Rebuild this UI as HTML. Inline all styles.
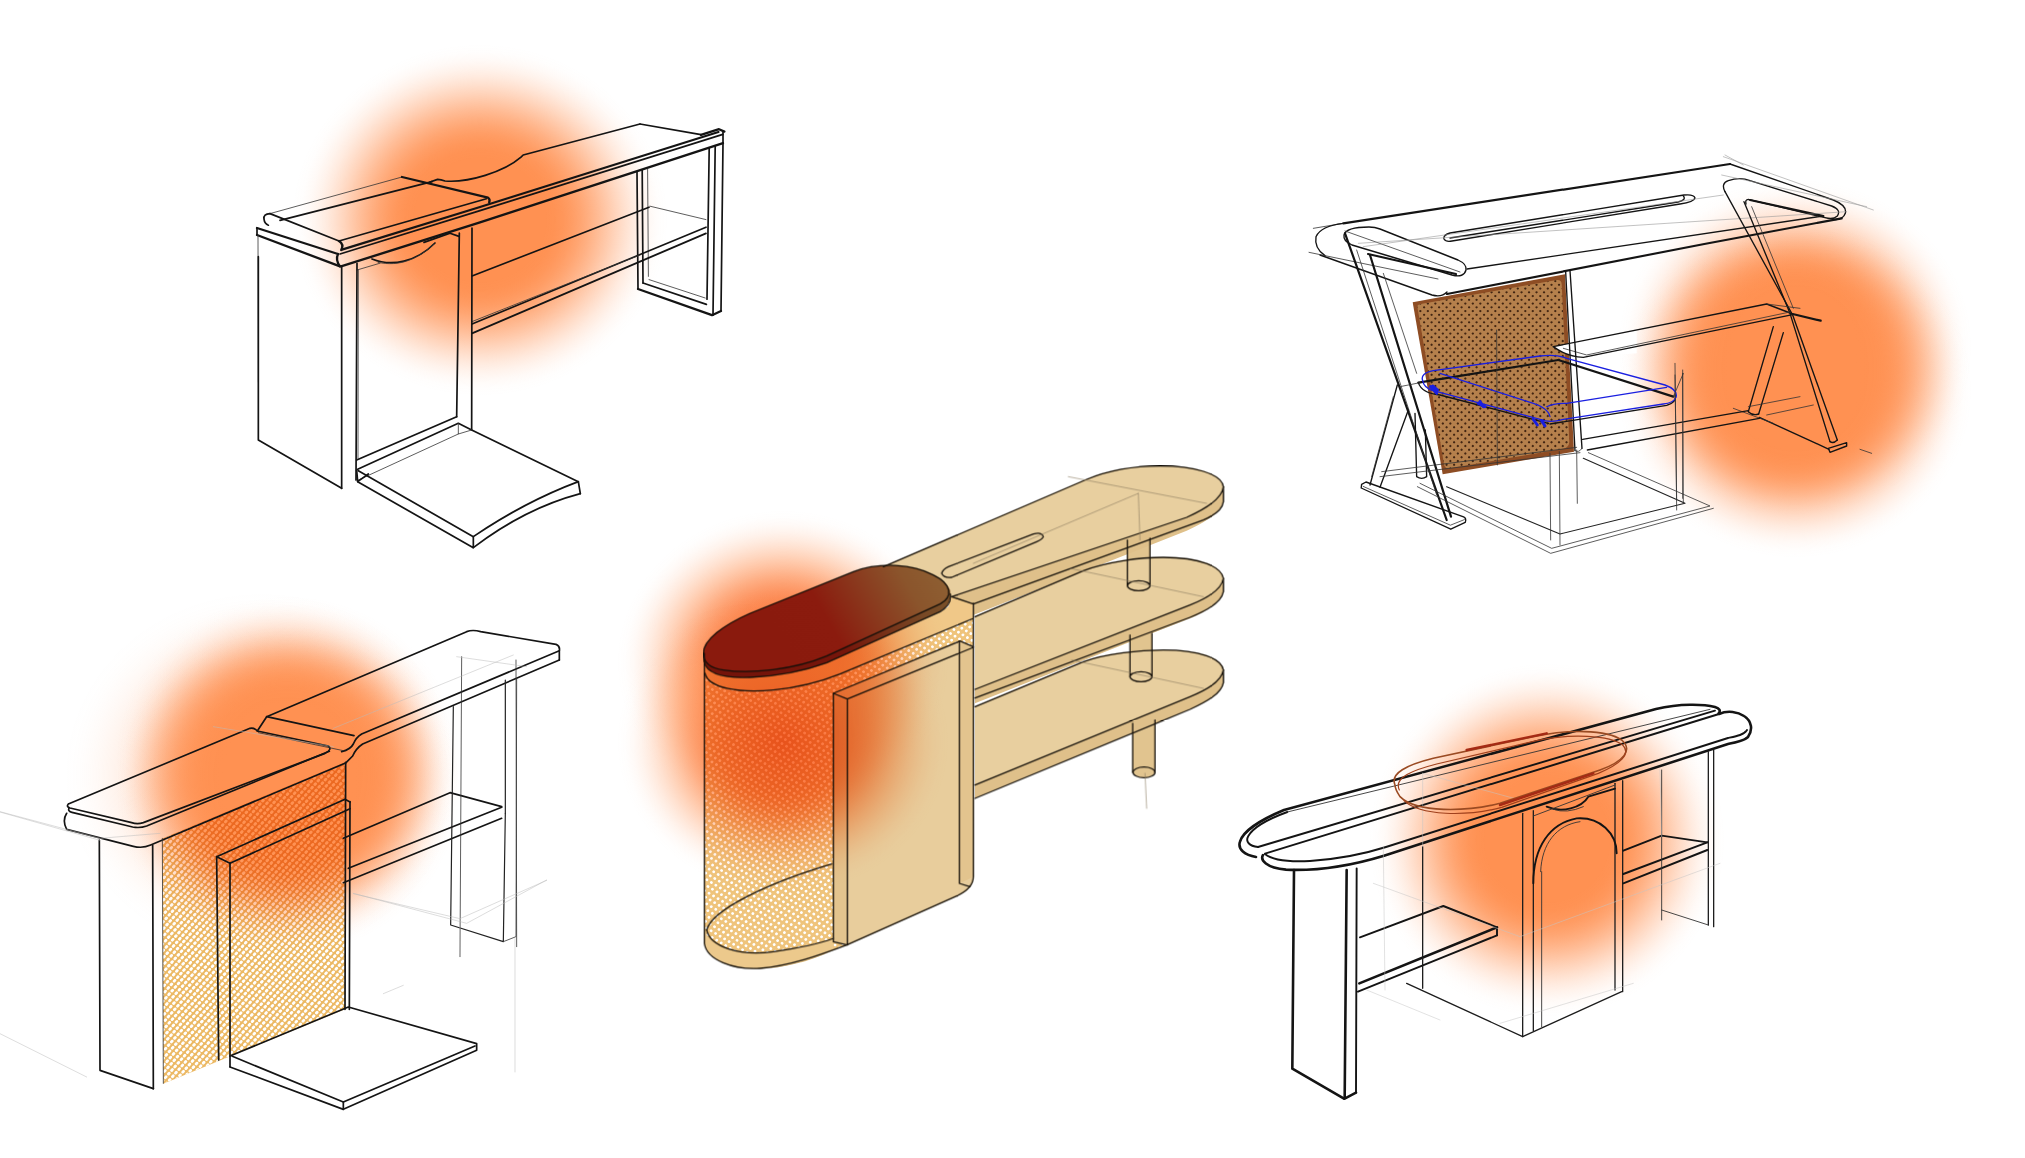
<!DOCTYPE html>
<html><head><meta charset="utf-8"><title>Desk concept sketches</title>
<style>
html,body{margin:0;padding:0;background:#fff;overflow:hidden}
svg{display:block}
.ln path,.ln line,.ln ellipse,.ln polyline{vector-effect:non-scaling-stroke;fill:none;stroke:#141414;stroke-width:1.7;stroke-linecap:round;stroke-linejoin:round}
.ln .t{stroke-width:.8;stroke:#333}
.ln .f{stroke-width:.5;stroke:#bbb}
.ln .b{stroke-width:2.3}
.ln .m{stroke-width:1.2;stroke:#222}
.ln.s4 path,.ln.s4 ellipse{stroke-width:1.3;stroke:#14100a}
.ln.s4 path.f{stroke-width:.6;stroke:#8a7a60}
.ln.s5 path{stroke-width:1.9}
.ln.s5 path.b{stroke-width:2.6}
.ln.s5 path.t{stroke-width:.9;stroke:#333}
.ln.s5 path.m{stroke-width:1.3;stroke:#1c1c1c}
.ln.s5 path.f{stroke-width:.5;stroke:#c4c4c4}
.ln.s2 path{stroke-width:1.35}
.ln.s2 path.b{stroke-width:2.2}
.ln.s2 path.t{stroke-width:.8;stroke:#333}
.ln.s2 path.f{stroke-width:.6;stroke:#999}
</style></head><body>
<svg width="2025" height="1158" viewBox="0 0 2025 1158">
<defs>
<radialGradient id="og" cx=".5" cy=".5" r=".5">
<stop offset="0.000" stop-color="rgb(255,145,82)" stop-opacity="1.000"/>
<stop offset="0.350" stop-color="rgb(255,145,82)" stop-opacity="1.000"/>
<stop offset="0.396" stop-color="rgb(255,145,82)" stop-opacity="0.987"/>
<stop offset="0.443" stop-color="rgb(255,145,82)" stop-opacity="0.950"/>
<stop offset="0.489" stop-color="rgb(255,145,82)" stop-opacity="0.891"/>
<stop offset="0.536" stop-color="rgb(255,145,82)" stop-opacity="0.812"/>
<stop offset="0.582" stop-color="rgb(255,145,82)" stop-opacity="0.717"/>
<stop offset="0.629" stop-color="rgb(255,145,82)" stop-opacity="0.611"/>
<stop offset="0.675" stop-color="rgb(255,145,82)" stop-opacity="0.500"/>
<stop offset="0.721" stop-color="rgb(255,145,82)" stop-opacity="0.389"/>
<stop offset="0.768" stop-color="rgb(255,145,82)" stop-opacity="0.283"/>
<stop offset="0.814" stop-color="rgb(255,145,82)" stop-opacity="0.188"/>
<stop offset="0.861" stop-color="rgb(255,145,82)" stop-opacity="0.109"/>
<stop offset="0.907" stop-color="rgb(255,145,82)" stop-opacity="0.050"/>
<stop offset="0.954" stop-color="rgb(255,145,82)" stop-opacity="0.013"/>
<stop offset="1.000" stop-color="rgb(255,145,82)" stop-opacity="0.000"/>
</radialGradient>
<clipPath id="cp3"><path d="M162.3 838.5 L345 762.3 L345 1009.3 L163.3 1083.7 Z"/></clipPath>
<clipPath id="cp4" transform="translate(640,440) scale(.33333)"><path d="M193 640 L193 1510 C200 1560 280 1590 360 1585 C450 1578 540 1545 620 1515 L950 1368 C985 1352 1000 1335 1000 1310 L1000 480 L560 640 Z"/></clipPath>
<radialGradient id="og4" cx=".5" cy=".5" r=".5">
<stop offset="0.000" stop-color="rgb(248,108,56)" stop-opacity="1.000"/>
<stop offset="0.320" stop-color="rgb(251,127,72)" stop-opacity="1.000"/>
<stop offset="0.369" stop-color="rgb(252,130,74)" stop-opacity="0.987"/>
<stop offset="0.417" stop-color="rgb(252,133,76)" stop-opacity="0.950"/>
<stop offset="0.466" stop-color="rgb(253,136,79)" stop-opacity="0.891"/>
<stop offset="0.514" stop-color="rgb(253,139,81)" stop-opacity="0.812"/>
<stop offset="0.563" stop-color="rgb(254,142,83)" stop-opacity="0.717"/>
<stop offset="0.611" stop-color="rgb(254,145,86)" stop-opacity="0.611"/>
<stop offset="0.660" stop-color="rgb(255,148,88)" stop-opacity="0.500"/>
<stop offset="0.709" stop-color="rgb(255,150,90)" stop-opacity="0.389"/>
<stop offset="0.757" stop-color="rgb(255,150,90)" stop-opacity="0.283"/>
<stop offset="0.806" stop-color="rgb(255,150,90)" stop-opacity="0.188"/>
<stop offset="0.854" stop-color="rgb(255,150,90)" stop-opacity="0.109"/>
<stop offset="0.903" stop-color="rgb(255,150,90)" stop-opacity="0.050"/>
<stop offset="0.951" stop-color="rgb(255,150,90)" stop-opacity="0.013"/>
<stop offset="1.000" stop-color="rgb(255,150,90)" stop-opacity="0.000"/>
</radialGradient>
<clipPath id="cp2" transform="translate(1300,140) scale(.33333)"><path d="M352 500 Q352 494 362 492 L770 420 Q784 418 785 432 L808 905 Q808 922 790 926 L450 985 Q434 988 432 972 Z"/></clipPath>
<linearGradient id="padg" gradientUnits="userSpaceOnUse" x1="330" y1="720" x2="930" y2="380">
<stop offset="0" stop-color="#8a1a0d"/><stop offset=".42" stop-color="#8b1b0e"/><stop offset=".62" stop-color="#8a3a1e"/><stop offset=".8" stop-color="#8b552c"/><stop offset="1" stop-color="#8f6234"/></linearGradient>
<linearGradient id="padg2" gradientUnits="userSpaceOnUse" x1="330" y1="720" x2="930" y2="380">
<stop offset="0" stop-color="#74140a"/><stop offset=".42" stop-color="#76160b"/><stop offset=".62" stop-color="#773219"/><stop offset=".8" stop-color="#784a26"/><stop offset="1" stop-color="#7a532b"/></linearGradient>
</defs>
<rect width="2025" height="1158" fill="#fff"/>
<!-- PANELS -->
<g id="panels">
<path d="M162.3 838.5 L345 762.3 L345 1009.3 L163.3 1083.7 Z" fill="#ecb964"/>
<!--H3--><g clip-path="url(#cp3)"><g transform="rotate(41.2)" stroke="#fff" stroke-width="2.85" stroke-linecap="round" stroke-dasharray="1.1 3.68" fill="none">
<path d="M616.20 338.09V713"/>
<path d="M620.94 337.46V713"/>
<path d="M625.68 336.82V713"/>
<path d="M630.42 336.19V713"/>
<path d="M635.16 335.55V713"/>
<path d="M639.90 334.92V713"/>
<path d="M644.64 339.06V713"/>
<path d="M649.38 338.43V713"/>
<path d="M654.12 337.79V713"/>
<path d="M658.86 337.16V713"/>
<path d="M663.60 336.52V713"/>
<path d="M668.34 335.89V713"/>
<path d="M673.08 335.25V713"/>
<path d="M677.82 334.62V713"/>
<path d="M682.56 338.76V713"/>
<path d="M687.30 338.12V713"/>
<path d="M692.04 337.49V713"/>
<path d="M696.78 336.86V713"/>
<path d="M701.52 336.22V713"/>
<path d="M706.26 335.59V713"/>
<path d="M711.00 334.95V713"/>
<path d="M715.74 339.10V713"/>
<path d="M720.48 338.46V713"/>
<path d="M725.22 337.83V713"/>
<path d="M729.96 337.19V713"/>
<path d="M734.70 336.56V713"/>
<path d="M739.44 335.92V713"/>
<path d="M744.18 335.29V713"/>
<path d="M748.92 334.65V713"/>
<path d="M753.66 338.80V713"/>
<path d="M758.40 338.16V713"/>
<path d="M763.14 337.53V713"/>
<path d="M767.88 336.89V713"/>
<path d="M772.62 336.26V713"/>
<path d="M777.36 335.62V713"/>
<path d="M782.10 334.99V713"/>
<path d="M786.84 339.13V713"/>
<path d="M791.58 338.50V713"/>
<path d="M796.32 337.86V713"/>
<path d="M801.06 337.23V713"/>
<path d="M805.80 336.59V713"/>
<path d="M810.54 335.96V713"/>
<path d="M815.28 335.32V713"/>
<path d="M820.02 334.69V713"/>
<path d="M824.76 338.83V713"/>
<path d="M829.50 338.20V713"/>
<path d="M834.24 337.56V713"/>
<path d="M838.98 336.93V713"/>
<path d="M843.72 336.29V713"/>
<path d="M848.46 335.66V713"/>
<path d="M853.20 335.02V713"/>
<path d="M857.94 339.17V713"/>
<path d="M862.68 338.53V713"/>
<path d="M867.42 337.90V713"/>
<path d="M872.16 337.26V713"/>
<path d="M876.90 336.62V713"/>
<path d="M881.64 335.99V713"/>
<path d="M886.38 335.36V713"/>
<path d="M891.12 334.72V713"/>
<path d="M895.86 338.87V713"/>
<path d="M900.60 338.23V713"/>
<path d="M905.34 337.60V713"/>
<path d="M910.08 336.96V713"/>
<path d="M914.82 336.33V713"/>
<path d="M919.56 335.69V713"/>
<path d="M924.30 335.06V713"/>
<path d="M929.04 339.20V713"/>
<path d="M933.78 338.57V713"/>
<path d="M938.52 337.93V713"/>
<path d="M943.26 337.30V713"/>
<path d="M948.00 336.66V713"/>
<path d="M952.74 336.03V713"/>
<path d="M957.48 335.39V713"/>
<path d="M962.22 334.76V713"/>
<path d="M966.96 338.90V713"/>
<path d="M971.70 338.27V713"/>
<path d="M976.44 337.63V713"/>
</g></g><!--/H3-->
<g transform="translate(640,440) scale(.33333)">
<path d="M193 640 L193 1510 C200 1560 280 1590 360 1585 C450 1578 540 1545 620 1515 L950 1368 C985 1352 1000 1335 1000 1310 L1000 480 L560 640 Z" fill="#efc47c"/>
<path d="M193 660 L193 735 C300 790 480 760 600 705 L1000 535 L1000 480 L560 640 Z" fill="#f0c888"/>
</g>
<!--H4--><g clip-path="url(#cp4)"><g transform="rotate(40.4)" stroke="#fff" stroke-width="2.8" stroke-linecap="round" stroke-dasharray="0.01 5.24" fill="none">
<path d="M916.86 -181.95V289"/>
<path d="M922.04 -182.80V289"/>
<path d="M927.22 -183.65V289"/>
<path d="M932.40 -179.25V289"/>
<path d="M937.58 -180.10V289"/>
<path d="M942.76 -180.95V289"/>
<path d="M947.94 -181.80V289"/>
<path d="M953.12 -182.65V289"/>
<path d="M958.30 -183.50V289"/>
<path d="M963.48 -179.10V289"/>
<path d="M968.66 -179.95V289"/>
<path d="M973.84 -180.80V289"/>
<path d="M979.02 -181.65V289"/>
<path d="M984.20 -182.50V289"/>
<path d="M989.38 -183.35V289"/>
<path d="M994.56 -178.95V289"/>
<path d="M999.74 -179.80V289"/>
<path d="M1004.92 -180.65V289"/>
<path d="M1010.10 -181.50V289"/>
<path d="M1015.28 -182.35V289"/>
<path d="M1020.46 -183.20V289"/>
<path d="M1025.64 -178.80V289"/>
<path d="M1030.82 -179.65V289"/>
<path d="M1036.00 -180.50V289"/>
<path d="M1041.18 -181.35V289"/>
<path d="M1046.36 -182.20V289"/>
<path d="M1051.54 -183.05V289"/>
<path d="M1056.72 -178.65V289"/>
<path d="M1061.90 -179.50V289"/>
<path d="M1067.08 -180.35V289"/>
<path d="M1072.26 -181.20V289"/>
<path d="M1077.44 -182.05V289"/>
<path d="M1082.62 -182.90V289"/>
<path d="M1087.80 -183.75V289"/>
<path d="M1092.98 -179.35V289"/>
<path d="M1098.16 -180.20V289"/>
<path d="M1103.34 -181.05V289"/>
<path d="M1108.52 -181.90V289"/>
<path d="M1113.70 -182.75V289"/>
<path d="M1118.88 -183.60V289"/>
<path d="M1124.06 -179.20V289"/>
<path d="M1129.24 -180.05V289"/>
<path d="M1134.42 -180.90V289"/>
<path d="M1139.60 -181.75V289"/>
<path d="M1144.78 -182.60V289"/>
<path d="M1149.96 -183.45V289"/>
<path d="M1155.14 -179.05V289"/>
<path d="M1160.32 -179.90V289"/>
<path d="M1165.50 -180.75V289"/>
<path d="M1170.68 -181.60V289"/>
<path d="M1175.86 -182.45V289"/>
<path d="M1181.04 -183.30V289"/>
<path d="M1186.22 -178.90V289"/>
<path d="M1191.40 -179.75V289"/>
<path d="M1196.58 -180.60V289"/>
<path d="M1201.76 -181.45V289"/>
<path d="M1206.94 -182.30V289"/>
<path d="M1212.12 -183.15V289"/>
<path d="M1217.30 -178.75V289"/>
<path d="M1222.48 -179.60V289"/>
<path d="M1227.66 -180.45V289"/>
<path d="M1232.84 -181.30V289"/>
<path d="M1238.02 -182.15V289"/>
<path d="M1243.20 -183.00V289"/>
<path d="M1248.38 -178.60V289"/>
<path d="M1253.56 -179.45V289"/>
<path d="M1258.74 -180.30V289"/>
<path d="M1263.92 -181.15V289"/>
<path d="M1269.10 -182.00V289"/>
<path d="M1274.28 -182.85V289"/>
<path d="M1279.46 -183.70V289"/>
<path d="M1284.64 -179.30V289"/>
<path d="M1289.82 -180.15V289"/>
<path d="M1295.00 -181.00V289"/>
<path d="M1300.18 -181.85V289"/>
<path d="M1305.36 -182.70V289"/>
<path d="M1310.54 -183.55V289"/>
<path d="M1315.72 -179.15V289"/>
<path d="M1320.90 -180.00V289"/>
<path d="M1326.08 -180.85V289"/>
<path d="M1331.26 -181.70V289"/>
<path d="M1336.44 -182.55V289"/>
<path d="M1341.62 -183.40V289"/>
<path d="M1346.80 -179.00V289"/>
<path d="M1351.98 -179.85V289"/>
<path d="M1357.16 -180.70V289"/>
<path d="M1362.34 -181.55V289"/>
<path d="M1367.52 -182.40V289"/>
<path d="M1372.70 -183.25V289"/>
<path d="M1377.88 -178.85V289"/>
</g></g><!--/H4-->
<g transform="translate(640,440) scale(.33333)"><path d="M193 665 L195 700 C205 745 300 760 400 750 C480 742 550 722 600 702 L1000 535 L1000 490 L935 466 L925 500 L900 515 L560 668 C500 690 420 708 330 712 C250 715 200 700 193 665 Z" fill="#f0c888"/><path d="M193 1470 C210 1520 300 1550 400 1535 C470 1525 540 1510 580 1495 L580 1530 C500 1570 420 1585 360 1585 C280 1590 200 1560 193 1510 Z" fill="#ecc98c"/></g>
<g transform="translate(640,440) scale(.33333)">
<path d="M580 760 L960 603 L1000 620 L1000 1310 C1000 1335 985 1352 950 1368 L622 1515 L580 1505 Z" fill="#e8cd9c"/>
<path d="M580 760 L622 777 L622 1515 L580 1505 Z" fill="#e3c48e"/>
<path d="M960 603 L1000 620 L1000 1310 L960 1330 Z" fill="#e3c48e"/>
<g fill="#e1c48f"><rect x="1462" y="290" width="68" height="147"/><ellipse cx="1496" cy="437" rx="34" ry="15"/>
<rect x="1470" y="570" width="66" height="140"/><ellipse cx="1503" cy="710" rx="33" ry="15"/>
<rect x="1478" y="840" width="67" height="157"/><ellipse cx="1512" cy="997" rx="33" ry="16"/></g>
<path d="M1005 800 L1330 665 C1400 640 1500 630 1570 630 C1680 630 1745 655 1750 690 L1750 728 C1745 760 1700 785 1650 808 L1005 1075 Z" fill="#dfc08a"/><path d="M1005 800 L1330 665 C1400 640 1500 630 1570 630 C1680 630 1745 655 1750 690 C1745 725 1700 750 1650 770 L1005 1035 Z" fill="#e8cf9f"/>
<path d="M1005 530 L1330 392 C1400 365 1500 352 1570 352 C1680 352 1745 380 1750 415 L1750 455 C1745 485 1700 512 1650 535 L1005 790 Z" fill="#dfc08a"/><path d="M1005 530 L1330 392 C1400 365 1500 352 1570 352 C1680 352 1745 380 1750 415 C1745 450 1700 475 1650 495 L1005 748 Z" fill="#e8cf9f"/>
<path d="M730 380 L1340 118 C1420 85 1500 78 1560 78 C1660 78 1745 100 1750 140 L1750 185 C1745 215 1700 245 1640 272 L1000 525 L1000 490 L935 470 Z" fill="#dfc08a"/><path d="M730 380 L1340 118 C1420 85 1500 78 1560 78 C1660 78 1745 100 1750 140 C1748 175 1700 205 1640 232 L935 470 Z" fill="#e8cf9f"/>

</g>
</g>
<!-- BLOBS -->
<g id="blobs" style="mix-blend-mode:multiply">
<ellipse cx="480" cy="220" rx="188" ry="176" fill="url(#og)"/>
<ellipse cx="1795" cy="347" rx="177" ry="168" fill="url(#og)"/><ellipse cx="1795" cy="390" rx="177" ry="168" fill="url(#og)"/>
<ellipse cx="262" cy="775" rx="200" ry="185" fill="url(#og)" opacity=".3"/><ellipse cx="288" cy="760" rx="172" ry="164" fill="url(#og)"/><ellipse cx="288" cy="790" rx="172" ry="164" fill="url(#og)"/>
<ellipse cx="1547" cy="840" rx="178" ry="177" fill="url(#og)"/>
<ellipse cx="783" cy="662" rx="166" ry="152" fill="url(#og4)"/><ellipse cx="783" cy="742" rx="166" ry="152" fill="url(#og4)"/>
</g>
<g transform="translate(640,440) scale(.33333)">
<path d="M190 640 L192 665 C200 700 250 715 330 712 C420 708 500 690 560 668 L900 515 C925 500 934 485 931 462 C935 432 880 405 880 405 L330 520 Z" fill="url(#padg2)"/>
<path d="M190 640 C190 600 250 555 330 520 L640 395 C720 365 820 372 880 405 C935 432 940 470 900 492 L560 648 C460 690 330 702 250 690 C210 684 190 665 190 640 Z" fill="url(#padg)"/>
</g>
<!-- SKETCH1 -->
<g class="ln" transform="translate(240,150) scale(.2)">
<path class="t" d="M150 318 L810 135"/>
<path class="b" d="M810 135 L1240 238 Q1252 246 1246 262"/>
<path d="M200 352 L960 158"/>
<path d="M150 318 L495 455"/>
<path d="M150 318 Q116 320 120 346 Q123 370 142 376"/>
<path d="M495 455 L1232 244"/>
<path class="b" d="M495 455 Q522 472 506 500"/>
<path class="b" d="M85 390 L490 520"/>
<path class="b" d="M85 425 L500 582"/>
<path d="M85 390 L85 425"/>
<path class="b" d="M490 520 Q476 550 500 582"/>
<path class="t" d="M90 425 L92 1160"/>
<path d="M660 545 C760 585 880 560 975 465"/>
<path class="t" d="M690 562 C800 585 890 545 970 470"/>
<path d="M920 462 L1050 416 L1095 432"/>
<path class="t" d="M585 600 L700 566"/>
</g>
<g class="ln" transform="translate(480,100) scale(.2)">
<path d="M-250 410 L-212 397 Q-195 398 -175 405 C-60 415 120 360 205 286 L216 275 L800 120"/>
<path d="M800 120 L1105 173"/>
<path class="b" d="M1105 174 L1195 146 L1222 158"/>
<path d="M1215 162 L1215 215"/>
<path class="b" d="M-690 748 L0 535 L1192 160"/>
<path d="M-700 770 L0 553 L1214 172"/>
<path class="b" d="M-695 832 L0 612 L1215 216"/>
<path d="M1215 215 L1205 1055"/>
<path d="M1176 230 L1165 1076"/>
<path d="M1146 240 L1135 996"/>
<path d="M785 360 L790 945"/>
<path d="M811 352 L815 915"/>
<path class="t" d="M838 345 L842 882"/>
<path class="b" d="M790 945 L1160 1076 L1205 1055"/>
<path d="M815 915 L1132 1022"/>
<path class="t" d="M845 898 L1126 990"/>
<path class="t" d="M850 531 L1130 598"/>
<path d="M-40 880 L845 536"/>
<path d="M-40 1120 L1130 636"/>
<path d="M-40 1167 L1130 667"/>
<path class="t" d="M-40 1108 L800 775"/>
</g>
<g class="ln" transform="translate(225,250) scale(.33333)">
<path d="M100 20 L100 570 L350 715"/>
<path d="M350 50 L350 715"/>
<path d="M396 40 L393 690"/>
<path class="t" d="M400 60 L399 625"/>
<path d="M703 -51 L695 500"/>
<path d="M741 -66 L740 540"/>
<path d="M395 630 L695 500"/>
<path d="M398 658 L700 520 L740 540 L1060 695 L1066 731"/>
<path class="t" d="M700 520 L700 552 L400 690"/>
<path class="t" d="M700 552 L740 540"/>
<path d="M395 660 L398 695 L430 672"/>
<path d="M400 662 L745 860 Q900 755 1060 695"/>
<path d="M398 695 L745 893 L745 860"/>
<path d="M745 893 Q900 775 1066 731"/>
</g>
<!-- SKETCH2 -->
<g transform="translate(1300,140) scale(.33333)">
<path d="M338 487 L795 403 L822 935 L428 1003 Z" fill="#8e4d24"/>
<path d="M352 500 Q352 494 362 492 L770 420 Q784 418 785 432 L808 905 Q808 922 790 926 L450 985 Q434 988 432 972 Z" fill="#b5804c"/>
</g>
<!--H2--><g clip-path="url(#cp2)"><g transform="rotate(45)" stroke="#2e1508" stroke-width="2.2" stroke-linecap="round" stroke-dasharray="0.01 5.29" fill="none" stroke-opacity=".85">
<path d="M1187.20 -932.80V-659"/>
<path d="M1192.50 -932.80V-659"/>
<path d="M1197.80 -932.80V-659"/>
<path d="M1203.10 -932.80V-659"/>
<path d="M1208.40 -932.80V-659"/>
<path d="M1213.70 -932.80V-659"/>
<path d="M1219.00 -932.80V-659"/>
<path d="M1224.30 -932.80V-659"/>
<path d="M1229.60 -932.80V-659"/>
<path d="M1234.90 -932.80V-659"/>
<path d="M1240.20 -932.80V-659"/>
<path d="M1245.50 -932.80V-659"/>
<path d="M1250.80 -932.80V-659"/>
<path d="M1256.10 -932.80V-659"/>
<path d="M1261.40 -932.80V-659"/>
<path d="M1266.70 -932.80V-659"/>
<path d="M1272.00 -932.80V-659"/>
<path d="M1277.30 -932.80V-659"/>
<path d="M1282.60 -932.80V-659"/>
<path d="M1287.90 -932.80V-659"/>
<path d="M1293.20 -932.80V-659"/>
<path d="M1298.50 -932.80V-659"/>
<path d="M1303.80 -932.80V-659"/>
<path d="M1309.10 -932.80V-659"/>
<path d="M1314.40 -932.80V-659"/>
<path d="M1319.70 -932.80V-659"/>
<path d="M1325.00 -932.80V-659"/>
<path d="M1330.30 -932.80V-659"/>
<path d="M1335.60 -932.80V-659"/>
<path d="M1340.90 -932.80V-659"/>
<path d="M1346.20 -932.80V-659"/>
<path d="M1351.50 -932.80V-659"/>
<path d="M1356.80 -932.80V-659"/>
<path d="M1362.10 -932.80V-659"/>
<path d="M1367.40 -932.80V-659"/>
<path d="M1372.70 -932.80V-659"/>
<path d="M1378.00 -932.80V-659"/>
<path d="M1383.30 -932.80V-659"/>
<path d="M1388.60 -932.80V-659"/>
<path d="M1393.90 -932.80V-659"/>
<path d="M1399.20 -932.80V-659"/>
<path d="M1404.50 -932.80V-659"/>
<path d="M1409.80 -932.80V-659"/>
<path d="M1415.10 -932.80V-659"/>
<path d="M1420.40 -932.80V-659"/>
<path d="M1425.70 -932.80V-659"/>
<path d="M1431.00 -932.80V-659"/>
<path d="M1436.30 -932.80V-659"/>
<path d="M1441.60 -932.80V-659"/>
<path d="M1446.90 -932.80V-659"/>
<path d="M1452.20 -932.80V-659"/>
</g></g><!--/H2-->
<g transform="translate(1300,140) scale(.33333)"><path d="M760 620 L1010 570 L1010 640 L850 652 Q800 650 760 620 Z" fill="#fff"/></g>
<g class="ln s2" transform="translate(1300,140) scale(.33333)">
<path class="b" d="M130 250 L1290 72"/>
<path class="t" d="M40 265 L130 250"/>
<path d="M130 250 Q62 258 48 290 Q42 325 75 347"/>
<path d="M60 345 L396 465 Q425 473 441 456"/>
<path class="t" d="M27 337 L414 417"/>
<path class="b" d="M441 462 L1213 312 L1625 235"/>
<path d="M501 387 L1570 228"/>
<path d="M1290 72 L1600 180 Q1642 197 1636 220 Q1628 242 1598 238"/>
<path d="M1285 122 Q1262 130 1275 155 M1285 122 Q1320 110 1350 122 L1595 198 Q1625 210 1612 228 Q1600 240 1575 233 L1345 178 Q1335 178 1338 192"/>
<path class="b" d="M1350 180 L1570 228"/>
<path d="M450 279 Q429 285 432 297 Q438 307 456 303 L1140 192 Q1182 186 1185 174 Q1182 162 1152 165 Z"/>
<path d="M450 294 L1134 186 Q1160 180 1150 168"/>
<path d="M207 261 Q138 261 132 285 Q129 303 156 315 L456 405 Q492 414 498 390 Q501 372 474 360 L240 267 Q225 261 207 261"/>
<path class="b" d="M204 342 L468 402"/>
<path class="t" d="M135 273 L480 396"/>
<path class="f" d="M190 320 L1270 165"/>
<path class="f" d="M175 310 L1640 215 M1270 50 L1720 210 M1265 105 L1700 200 M1330 75 L1275 45"/>
<path class="b" d="M135 280 L440 1140"/>
<path class="b" d="M210 345 L453 1130"/>
<path class="t" d="M170 330 L410 1065"/>
<path class="t" d="M250 400 L350 700"/>
<path d="M1275 155 L1478 525 L1612 900"/>
<path d="M1332 185 L1470 520 L1590 905"/>
<path class="t" d="M1355 200 L1480 505"/>
<path d="M1420 560 L1345 815"/>
<path d="M1450 578 L1376 822"/>
<path d="M1345 815 Q1358 828 1376 822"/>
<path d="M1590 905 Q1600 912 1612 900"/>
<path d="M1585 925 L1640 908 L1640 918 L1590 937 Z"/>
<path d="M1378 832 L1587 928"/>
<path class="t" d="M1300 805 L1420 850 M1680 928 L1715 940"/>
<path d="M848 898 L1345 812"/>
<path d="M862 930 L1378 835"/>
<path class="t" d="M1345 800 L1500 770 M1400 825 L1540 795"/>
<path d="M760 620 L1400 492 L1478 522"/>
<path d="M760 620 Q800 650 850 652 L1478 524"/>
<path class="t" d="M790 625 L860 645 L1470 516"/>
<path class="b" d="M1478 522 L1562 542"/>
<path class="t" d="M1400 492 L1500 505"/>
<path d="M797 395 L825 932"/>
<path d="M810 392 L846 925"/>
<path class="t" d="M825 932 Q836 940 846 925"/>
<path class="b" d="M355 728 L775 660"/>
<path class="b" d="M775 660 L1120 770"/>
<path d="M750 852 L1100 796 Q1132 786 1125 765"/>
<path d="M355 728 Q365 760 420 765 L745 850"/>
<path class="t" d="M300 740 L360 728 M1120 770 L1150 700 M1125 705 L1130 1080 M1148 700 L1148 1075"/>
<g style="stroke:#1a1fe0">
<path style="stroke:#1a1fe0" d="M368 722 Q360 700 400 692 L720 648 Q770 642 800 655 L1095 735 Q1135 750 1128 772 Q1120 790 1090 792 L790 838 Q750 850 720 838 L400 752 Q372 745 368 722"/>
<path style="stroke:#1a1fe0;stroke-width:1.2" d="M740 800 Q760 790 800 790 L1100 742"/>
<path style="stroke:#1a1fe0;stroke-width:1.2" d="M420 700 L700 790 Q745 805 750 830"/>
<path style="stroke:#1a1fe0;stroke-width:3" d="M392 740 L410 760 M398 738 L412 750 M535 790 L555 800 M540 785 L550 800 M700 838 L712 855 M725 842 L735 858"/>
</g>
</g>
<g class="ln s2" transform="translate(1300,330) scale(.33333)">
<path d="M210 465 L292 165"/>
<path d="M240 472 L325 240"/>
<path class="t" d="M215 440 L280 200"/>
<path d="M345 250 L350 440 Q365 450 380 440 L376 300"/>
<path class="t" d="M240 440 L840 368"/>
<path class="t" d="M245 425 L830 352"/>
<path class="t" d="M352 470 L752 670 L1240 535"/>
<path class="t" d="M360 460 L755 655 L1230 528 L865 368"/>
<path class="t" style="stroke-width:1.1;stroke:#222" d="M440 470 L780 612 L1155 520 L850 385"/>
<path class="t" d="M750 370 L752 630 M778 365 L780 645 M830 360 L832 520 M1125 100 L1130 540 M1148 120 L1150 520"/>
<path class="t" d="M590 0 L592 405"/>
</g>
<g class="ln s2" transform="translate(1330,380) scale(.2)">
<path d="M158 522 L180 510 L668 684 Q684 692 676 712 L604 746 L156 540 Z"/>
<path class="t" d="M166 532 L602 726 L672 698"/>
</g>
<!-- SKETCH3 -->
<g class="ln" transform="translate(0,600) scale(.33333)">
<path d="M205 612 L750 385 Q762 382 772 393 L985 438 Q998 448 975 460 L430 668 Q412 674 395 668 L210 624 Q198 620 205 612"/>
<path d="M207 624 Q203 634 216 637 L398 681 Q420 685 440 678 L988 454"/>
<path d="M200 640 Q186 662 200 688 L400 739 Q428 746 452 735 L1035 490"/>
<path d="M772 393 L800 350 L1400 95 Q1418 88 1442 95 L1668 133 Q1681 139 1678 152 L1678 180"/>
<path d="M1678 152 L1085 402 Q1068 412 1060 432 Q1052 448 1025 455"/>
<path d="M1678 180 L1088 432 Q1068 445 1058 468 L1036 490"/>
<path d="M800 350 L1062 407"/>
<path class="t" d="M775 398 L1030 452"/>
<path d="M298 720 L300 1411 L460 1466"/>
<path d="M458 735 L460 1466"/>
<path class="t" d="M487 715 L490 1450"/>
<path d="M1037 487 L1035 1228"/>
<path d="M1050 605 L1048 1228"/>
<path d="M650 770 L1035 598 L1050 606"/>
<path d="M690 790 L1050 626"/>
<path d="M650 770 L690 790"/>
<path d="M650 770 L656 1380"/>
<path d="M690 790 L690 1400"/>
<path d="M1030 715 L1350 578 L1505 620"/>
<path d="M1045 805 L1505 622"/>
<path d="M1030 848 L1505 655"/>
<path class="m" d="M1360 320 L1352 975 L1510 1025 L1516 640"/>
<path class="m" d="M1516 240 L1516 640"/>
<path class="t" d="M1550 235 L1548 1010 L1510 1025"/>
<path class="t" d="M1385 170 L1380 1070 M1548 180 L1550 1040"/>
<path class="f" d="M1370 170 L1580 200 M1000 385 L1540 165 M0 635 L300 715 L480 700 M1060 880 L1400 970 L1640 840 M640 380 L1000 440"/>
</g>
<g class="ln" transform="translate(0,772) scale(.33333)">
<path d="M690 852 L1045 705 L1430 815 L1430 835 L1030 1012 L690 885"/>
<path d="M697 853 L1030 990 L1425 822"/>
<path d="M1030 990 L1030 1012"/>
<path class="f" d="M0 120 L300 205 M0 785 L260 915 M1060 365 L1380 440 L1640 325 M1380 440 L1380 550 M1545 500 L1545 900 M1150 665 L1210 640"/>
</g>
<!-- SKETCH4 -->
<g class="ln s4" transform="translate(640,440) scale(.33333)">
<path d="M730 380 L1340 118 C1420 85 1500 78 1560 78 C1660 78 1745 100 1750 140 L1750 185 C1748 205 1725 225 1690 240 L1000 492 L935 470"/><path d="M1750 140 C1748 175 1700 205 1640 232 L935 470"/>
<path d="M1005 530 L1330 392 C1400 365 1500 352 1570 352 C1680 352 1745 380 1750 415 L1750 455 C1745 485 1700 512 1650 532 L1005 774"/>
<path d="M1750 415 C1745 450 1700 475 1650 495 L1005 748"/>
<path d="M1005 800 L1330 665 C1400 640 1500 630 1570 630 C1680 630 1745 655 1750 690 L1750 728 C1745 760 1700 785 1650 808 L1005 1075"/>
<path d="M1750 690 C1745 725 1700 750 1650 770 L1005 1035"/>
<path d="M1462 300 L1462 437 M1530 295 L1530 437"/><ellipse cx="1496" cy="437" rx="34" ry="15"/>
<path d="M1470 585 L1470 710 M1536 580 L1536 710"/><ellipse cx="1503" cy="710" rx="33" ry="15"/>
<path d="M1478 850 L1478 997 M1545 840 L1545 997"/><ellipse cx="1512" cy="997" rx="33" ry="16"/>
<path d="M925 380 L1180 282 Q1205 275 1210 290 Q1205 300 1190 305 L935 412 Q912 415 905 400 Q908 388 925 380"/>
<path d="M190 640 C190 600 250 555 330 520 L640 395 C720 365 820 372 880 405 C935 432 940 470 900 492 L560 648 C460 690 330 702 250 690 C210 684 190 665 190 640 Z"/>
<path d="M190 640 L192 665 C200 700 250 715 330 712 C420 708 500 690 560 668 L900 515 C925 500 934 485 931 462"/>
<path d="M195 700 C205 745 300 760 400 750 C480 742 550 722 600 702 L1000 535"/>
<path d="M193 640 L193 1510 C200 1560 280 1590 360 1585 C450 1578 540 1545 620 1515 L950 1368 C985 1352 1000 1335 1000 1310 L1000 490"/>
<path d="M580 760 L960 603 L1000 620 M580 760 L622 777 L1000 622 M580 760 L580 1505 L622 1515 L622 777"/>
<path d="M958 603 L958 1330 L990 1340"/>
<path d="M200 1470 C215 1410 380 1330 575 1272"/>
<path d="M200 1470 C210 1520 300 1550 400 1535 C470 1525 540 1510 580 1495"/>
<path class="f" d="M1285 110 L1700 190 M1495 160 L1500 300 M1495 160 L1000 370 M1290 385 L1690 470 M1295 660 L1690 745 M1515 1000 L1520 1105"/>
</g>
<!-- SKETCH5 -->
<g class="ln s5" transform="translate(1200,690) scale(.33333)">
<path class="b" d="M168 501 C135 495 112 478 120 455 C128 425 180 390 252 360 L1368 57 C1440 40 1510 42 1545 51 Q1566 58 1556 70"/>
<path d="M174 471 C148 468 135 455 145 438 C160 412 210 385 262 366"/>
<path d="M174 471 L1545 62"/>
<path d="M195 491 L1557 72"/>
<path class="t" d="M262 366 L1530 58"/>
<path class="b" d="M1557 72 C1584 60 1614 66 1632 78 C1656 93 1659 120 1644 141 C1632 153 1608 157 1584 162 L552 497 C450 528 348 543 258 539 C198 534 180 510 189 495"/>
<path d="M195 492 C216 510 270 516 330 513 C420 507 492 492 558 471 L1584 144 C1608 139 1632 135 1641 120"/>
<path class="b" d="M282 540 L277 1136 L432 1226"/>
<path class="b" d="M440 540 L434 1226 L468 1208"/>
<path d="M470 535 L468 1208"/>
<path d="M480 742 L730 648 L891 712 L891 736"/>
<path class="b" d="M891 712 L478 880"/>
<path d="M891 736 L474 905"/>
<path class="m" d="M668 470 L668 895"/>
<path class="m" d="M620 880 L968 1040 L1265 905"/>
<path class="m" d="M968 370 L968 1040"/>
<path class="m" d="M1000 362 L1000 1022"/>
<path class="t" d="M1025 545 L1025 1010"/>
<path class="m" d="M1245 280 L1245 900"/>
<path class="m" d="M1268 272 L1268 905"/>
<path d="M1000 580 C1000 470 1050 400 1130 385 C1200 380 1250 430 1250 490"/>
<path class="t" d="M1022 545 C1025 460 1070 405 1140 395"/>
<path d="M1040 350 Q1075 365 1112 355 Q1150 345 1165 320 L1245 296"/>
<path class="t" d="M1000 378 L1245 285 M1060 358 Q1100 372 1150 350"/>
<path d="M1270 482 L1385 437 L1522 457"/>
<path d="M1522 457 L1270 552"/>
<path d="M1522 480 L1270 580"/>
<path class="m" d="M1525 185 L1525 705"/>
<path class="m" d="M1541 180 L1541 710"/>
<path class="t" d="M1385 240 L1385 690 M1385 660 L1525 705"/>
<path class="f" d="M550 470 L555 900 M668 250 L668 470 M520 580 L960 740 M960 740 L1560 520 M500 900 L720 990 M900 1000 L1300 880 M668 250 L960 330 M1380 240 L1385 440"/>
<g>
<path style="stroke:#9a4a22;stroke-width:1.6" d="M585 285 C570 250 620 225 700 205 L1000 140 C1100 118 1220 118 1265 150 C1300 180 1270 215 1200 240 L900 340 C800 365 650 370 600 320 C590 305 585 295 585 285"/>
<path style="stroke:#a0401c;stroke-width:1.2" d="M598 300 C580 262 640 240 710 222 L1010 152 C1110 130 1230 135 1268 165 C1295 192 1260 222 1195 250 L905 352 C800 380 660 378 612 332"/>
<path style="stroke:#a52a14;stroke-width:2.4" d="M800 180 L1040 130 M900 345 L1180 250"/>
</g>
</g>
</svg>
</body></html>
